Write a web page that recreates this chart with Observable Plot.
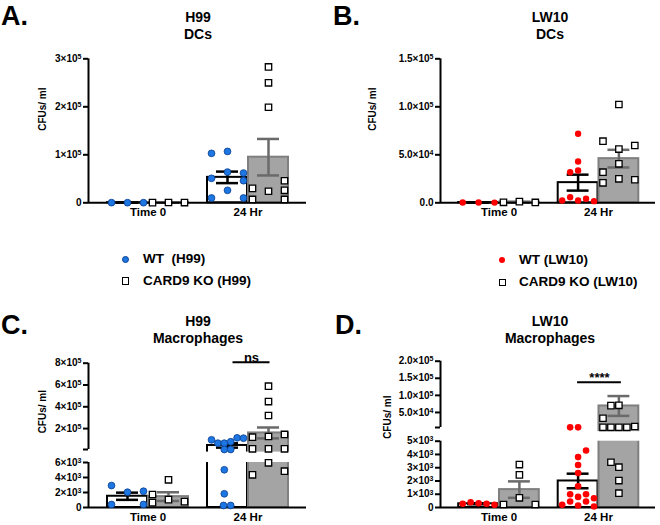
<!DOCTYPE html>
<html><head><meta charset="utf-8">
<script src="https://cdn.jsdelivr.net/npm/d3@7"></script>
<script src="https://cdn.jsdelivr.net/npm/@observablehq/plot@0.6"></script>
<style>
body{margin:0;background:#fff;}
#fig{position:relative;width:660px;height:525px;font-family:"Liberation Sans",Arial,Helvetica,sans-serif;font-weight:bold;color:#000;overflow:hidden;background:#fff;}
.abs{position:absolute;white-space:pre;}
.letter{font-size:27px;line-height:30px;}
.title{font-size:14px;line-height:17px;text-align:center;width:200px;}
.leg{font-size:13.5px;line-height:16px;}
.sym{position:absolute;box-sizing:border-box;}
</style></head>
<body><div id="fig"></div>
<script>
// ---------- shared labels ----------
const timeLabels = ["Time 0", "24 Hr"];
const yTitle = "CFUs/ ml";
const panelLetters = ["A.", "B.", "C.", "D."];

// ---------- Panel A : H99, DCs ----------
const A_title = ["H99", "DCs"];
const A_legend = ["WT  (H99)", "CARD9 KO (H99)"];
const A_wt0 = [300, 200, 250];            const A_wt0Lane = [-2, 0, 2];
const A_ko0 = [400, 600, 500];            const A_ko0Lane = [-2, 0, 2];
const A_wt24 = [103000, 107000, 64000, 51000, 62000, 46000, 26000, 10000, 10000];
const A_wt24Lane = [-2, 0, 0, -2, 2, 2, 0, -2, 2];
const A_ko24 = [283000, 250000, 199000, 30000, 24000, 46000, 26000, 7000, 7000];
const A_ko24Lane = [0, 0, 0, -2, 0, 2, 2, -2, 2];
const A_wtMean = [250, 53000];   const A_wtSem = [40, 12000];
const A_koMean = [500, 95000];   const A_koSem = [80, 38000];
const A_ticks = [0, 100000, 200000, 300000];
const A_tickLabels = ["0", "1×10⁵", "2×10⁵", "3×10⁵"];

// ---------- Panel B : LW10, DCs ----------
const B_title = ["LW10", "DCs"];
const B_legend = ["WT (LW10)", "CARD9 KO (LW10)"];
const B_wt0 = [300, 300, 200];            const B_wt0Lane = [-2, 0, 2];
const B_ko0 = [500, 1200, 400];           const B_ko0Lane = [-2, 0, 2];
const B_wt24 = [71900, 43000, 31900, 33600, 2400, 5800, 2400, 4200, 1700];
const B_wt24Lane = [0, 0, -1, 0, -2, -1, 0, 1, 2];
const B_ko24 = [102400, 64200, 56000, 59700, 40600, 31900, 20800, 25000, 24000];
const B_ko24Lane = [0, -2, 0, 2, 0, -2, -2, 0, 2];
const B_wtMean = [270, 21000];   const B_wtSem = [30, 8300];
const B_koMean = [700, 46000];   const B_koSem = [250, 9200];
const B_ticks = [0, 50000, 100000, 150000];
const B_tickLabels = ["0.0", "5.0×10⁴", "1.0×10⁵", "1.5×10⁵"];

// ---------- Panel C : H99, Macrophages (broken axis) ----------
const C_title = ["H99", "Macrophages"];
const C_wt0 = [2930, 2040, 2170, 400, 400];       const C_wt0Lane = [-2, 0, 2, -2, 2];
const C_ko0 = [1730, 650, 3690, 1050, 780];       const C_ko0Lane = [-2, -2, 0, 0, 2];
const C_wt24 = [97000, 66000, 66000, 79000, 115000, 112000, 8000, 8200, 5030, 1830, 270, 270];
const C_wt24Lane = [-2, -1.2, -0.4, 0.4, 1.2, 2, -0.4, 0.4, -0.4, -0.4, -0.5, 0.4];
const C_ko24 = [589000, 448000, 320000, 121000, 127000, 146000, 14400, 14400, 14400, 5960, 4360, 4840];
const C_ko24Lane = [0, 0, 0, -2, 0, 2, -2, 0, 2, 0, -2, 2];
const C_wtMean = [1500, 45000];  const C_wtSem = [480, 20000];
const C_koMean = [1450, 160000]; const C_koSem = [580, 50000];
const C_ticks = [0, 2000, 4000, 6000, 8000, 200000, 400000, 600000, 800000];
const C_tickLabels = ["0", "2×10³", "4×10³", "6×10³", "", "2×10⁵", "4×10⁵", "6×10⁵", "8×10⁵"];
const C_segLow = [0, 6000];  const C_segHigh = [8000, 800000];
const C_sigLabel = ["ns"];   const C_sigSpan = [0.85, 1.22];  const C_sigValue = [809000];

// ---------- Panel D : LW10, Macrophages (broken axis) ----------
const D_title = ["LW10", "Macrophages"];
const D_wt0 = [280, 400, 320, 280, 200];          const D_wt0Lane = [-2, -1, 0, 1, 2];
const D_ko0 = [3240, 2460, 730, 226, 226];        const D_ko0Lane = [0, 0, 0, -2, 2];
const D_wt24 = [6500, 6500, 4300, 3800, 3200, 2600, 1600, 1000, 1000, 800, 450, 450, 700, 200, 150, 80];
const D_wt24Lane = [-1, 0, 1, 0, 0, 0, 0, -1, 1, 0, -1, 1, 2, -2, 0, 2];
const D_ko24 = [70000, 71000, 33000, 6500, 6500, 6500, 6500, 8900, 3410, 3040, 2030, 1080];
const D_ko24Lane = [-1, 0, -2, -2, -1, 0, 1, 2, -1, 0, 0, 0];
const D_wtMean = [280, 2000];    const D_wtSem = [35, 550];
const D_koMean = [1350, 69000];  const D_koSem = [620, 29000];
const D_ticks = [0, 1000, 2000, 3000, 4000, 5000, 6000, 50000, 100000, 150000, 200000];
const D_tickLabels = ["0", "1×10³", "2×10³", "3×10³", "4×10³", "5×10³", "", "5.0×10⁴", "1.0×10⁵", "1.5×10⁵", "2.0×10⁵"];
const D_segLow = [0, 5000];  const D_segHigh = [6000, 200000];
const D_sigLabel = ["****"]; const D_sigSpan = [0.79, 1.23]; const D_sigValue = [138500];

// ---------- builder ----------
const fig = document.getElementById("fig");
const FONT = "'Liberation Sans', Arial, Helvetica, sans-serif";
const SUP = "⁰¹²³⁴⁵⁶⁷⁸⁹";
const NS = "http://www.w3.org/2000/svg";

// render "3×10⁵" as base text + raised smaller exponent (still real text)
function raiseExponents(svg) {
  svg.querySelectorAll("text").forEach(t => {
    const s = t.textContent;
    const m = s.match(/^(.*×10)([⁰¹²³⁴⁵⁶⁷⁸⁹]+)$/);
    if (!m) return;
    const exp = [...m[2]].map(ch => SUP.indexOf(ch)).join("");
    t.textContent = "";
    const a = document.createElementNS(NS, "tspan"); a.textContent = m[1];
    const b = document.createElementNS(NS, "tspan"); b.textContent = exp;
    b.setAttribute("dy", "-0.42em"); b.setAttribute("font-size", "7px");
    t.appendChild(a); t.appendChild(b);
  });
}

function buildPanel(c) {
  const off = [-0.205, 0.205];
  const [xmin, xmax] = c.xDomain;
  const groups = [[0, 0, c.wt0, c.wt0Lane], [0, 1, c.ko0, c.ko0Lane], [1, 0, c.wt24, c.wt24Lane], [1, 1, c.ko24, c.ko24Lane]];
  const pts = [[], []];
  for (const [t, g, vals, lanes] of groups) vals.forEach((v, i) => pts[g].push({x: t + off[g] + lanes[i] * 0.08, y: v}));
  const bars = [[], []];
  for (const t of [0, 1]) {
    bars[0].push({c: t + off[0], m: c.wtMean[t], s: c.wtSem[t]});
    bars[1].push({c: t + off[1], m: c.koMean[t], s: c.koSem[t]});
  }
  const barFill = ["white", "#a4a4a4"], barStroke = ["black", "#7f7f7f"], errColor = ["black", "#6a6a6a"];
  const labelMap = new Map(c.ticks.map((t, i) => [t, c.tickLabels[i]]));
  const marks = [];
  for (const g of [0, 1])
    marks.push(Plot.rect(bars[g], {x1: d => d.c - 0.2, x2: d => d.c + 0.2, y1: 0, y2: "m", fill: barFill[g], stroke: barStroke[g], strokeWidth: 2}));
  for (const g of [0, 1]) {
    const s = {stroke: errColor[g], strokeWidth: 2.5};
    marks.push(Plot.ruleX(bars[g], {x: "c", y1: d => d.m - d.s, y2: d => d.m + d.s, ...s}));
    marks.push(Plot.ruleY(bars[g], {y: d => d.m + d.s, x1: d => d.c - 0.11, x2: d => d.c + 0.11, ...s}));
    marks.push(Plot.ruleY(bars[g], {y: d => d.m - d.s, x1: d => d.c - 0.11, x2: d => d.c + 0.11, ...s}));
  }
  if (c.band) marks.push(Plot.rect([c.band], {x1: xmin + 0.01, x2: xmax, y1: d => d[0], y2: d => d[1], fill: "white"}));
  marks.push(Plot.ruleX(c.segments, {x: xmin, y1: d => d[0], y2: d => d[1], stroke: "black", strokeWidth: 2}));
  marks.push(Plot.axisY(c.ticks, {anchor: "left", tickFormat: d => labelMap.get(d), tickSize: 5, tickPadding: 2, strokeWidth: 2, fontSize: 10, fontWeight: "bold", label: null}));
  marks.push(Plot.ruleY([0], {stroke: "black", strokeWidth: 2}));
  marks.push(Plot.axisX([0, 1], {tickFormat: d => timeLabels[d], tickSize: 0, tickPadding: 5, fontSize: 11.5, fontWeight: "bold", label: null}));
  marks.push(Plot.dot(pts[0], {x: "x", y: "y", r: c.dotR, fill: c.dotFill, stroke: c.dotStroke, strokeWidth: c.dotStrokeWidth}));
  marks.push(Plot.dot(pts[1], {x: "x", y: "y", symbol: "square", r: 3.6, fill: "white", stroke: "black", strokeWidth: 1.3}));
  marks.push(Plot.text([yTitle], {frameAnchor: "left", rotate: -90, dx: c.labelDx, dy: c.labelDy, text: d => d, fontSize: 10, fontWeight: "bold"}));
  if (c.sig) {
    const sd = [{label: c.sig[0][0], x1: c.sig[1][0], x2: c.sig[1][1], y: c.sig[2][0]}];
    marks.push(Plot.ruleY(sd, {y: "y", x1: "x1", x2: "x2", stroke: "black", strokeWidth: 2}));
    marks.push(Plot.text(sd, {x: d => (d.x1 + d.x2) / 2, y: "y", text: "label", lineAnchor: "bottom", fontSize: 13, fontWeight: "bold"}));
  }
  const svg = Plot.plot({
    width: c.width, height: c.height,
    marginLeft: c.xRange[0], marginRight: c.width - c.xRange[1],
    marginTop: c.yRange[c.yRange.length - 1], marginBottom: c.height - c.yRange[0],
    x: {type: "linear", domain: c.xDomain, range: c.xRange},
    y: {type: "linear", domain: c.yDomain, range: c.yRange},
    style: {fontFamily: FONT, fontSize: "10px", fontWeight: "bold", color: "black", background: "transparent", overflow: "visible"},
    marks
  });
  raiseExponents(svg);
  svg.style.position = "absolute";
  svg.style.left = c.left + "px";
  svg.style.top = c.top + "px";
  fig.appendChild(svg);
}

const leftX = {xDomain: [-0.595, 1.585], xRange: [88, 306], width: 330};
const rightX = {xDomain: [-0.588, 1.573], xRange: [110, 325], width: 330};
const blue = {dotR: 3.4, dotFill: "#1d76e2", dotStroke: "#0a3f8f", dotStrokeWidth: 0.8};
const red = {dotR: 3.2, dotFill: "#ff0000", dotStroke: "none", dotStrokeWidth: 0};

buildPanel({...leftX, ...blue, left: 0, top: 0, height: 230,
  yDomain: [0, 300000], yRange: [202.3, 58.3], segments: [[0, 300000]],
  ticks: A_ticks, tickLabels: A_tickLabels, labelDx: -46, labelDy: 0,
  wt0: A_wt0, wt0Lane: A_wt0Lane, ko0: A_ko0, ko0Lane: A_ko0Lane, wt24: A_wt24, wt24Lane: A_wt24Lane, ko24: A_ko24, ko24Lane: A_ko24Lane,
  wtMean: A_wtMean, wtSem: A_wtSem, koMean: A_koMean, koSem: A_koSem});

buildPanel({...rightX, ...red, left: 330, top: 0, height: 230,
  yDomain: [0, 150000], yRange: [202.3, 58.3], segments: [[0, 150000]],
  ticks: B_ticks, tickLabels: B_tickLabels, labelDx: -68, labelDy: 0,
  wt0: B_wt0, wt0Lane: B_wt0Lane, ko0: B_ko0, ko0Lane: B_ko0Lane, wt24: B_wt24, wt24Lane: B_wt24Lane, ko24: B_ko24, ko24Lane: B_ko24Lane,
  wtMean: B_wtMean, wtSem: B_wtSem, koMean: B_koMean, koSem: B_koSem});

buildPanel({...leftX, ...blue, left: 0, top: 290, height: 235,
  yDomain: [0, C_segLow[1], C_segHigh[0], C_segHigh[1]], yRange: [217, 172, 159, 72.7],
  segments: [C_segLow, C_segHigh], band: [6000, 7600],
  ticks: C_ticks, tickLabels: C_tickLabels, labelDx: -46, labelDy: -2,
  wt0: C_wt0, wt0Lane: C_wt0Lane, ko0: C_ko0, ko0Lane: C_ko0Lane, wt24: C_wt24, wt24Lane: C_wt24Lane, ko24: C_ko24, ko24Lane: C_ko24Lane,
  wtMean: C_wtMean, wtSem: C_wtSem, koMean: C_koMean, koSem: C_koSem,
  sig: [C_sigLabel, C_sigSpan, C_sigValue]});

buildPanel({...rightX, ...red, dotR: 3.3, left: 330, top: 290, height: 235,
  yDomain: [0, D_segLow[1], D_segHigh[0], D_segHigh[1]], yRange: [217, 150.7, 137, 70.7],
  segments: [D_segLow, D_segHigh], band: [5000, 5700],
  ticks: D_ticks, tickLabels: D_tickLabels, labelDx: -53, labelDy: 4.5,
  wt0: D_wt0, wt0Lane: D_wt0Lane, ko0: D_ko0, ko0Lane: D_ko0Lane, wt24: D_wt24, wt24Lane: D_wt24Lane, ko24: D_ko24, ko24Lane: D_ko24Lane,
  wtMean: D_wtMean, wtSem: D_wtSem, koMean: D_koMean, koSem: D_koSem,
  sig: [D_sigLabel, D_sigSpan, D_sigValue]});

// ---------- HTML text: letters, titles, legends ----------
function addDiv(cls, text, left, top, extra) {
  const d = document.createElement("div");
  d.className = "abs " + cls;
  d.textContent = text;
  d.style.left = left + "px";
  d.style.top = top + "px";
  if (extra) Object.assign(d.style, extra);
  fig.appendChild(d);
  return d;
}
addDiv("letter", panelLetters[0], 1, 1);
addDiv("letter", panelLetters[1], 333, 1);
addDiv("letter", panelLetters[2], 1, 310);
addDiv("letter", panelLetters[3], 335, 310);

addDiv("title", A_title.join("\n"), 98, 8.5);
addDiv("title", B_title.join("\n"), 450, 8.5);
addDiv("title", C_title.join("\n"), 98, 313);
addDiv("title", D_title.join("\n"), 450, 313);

function addSym(kind, cx, cy, color) {
  const d = document.createElement("div");
  d.className = "sym";
  if (kind === "circle") {
    const s = color === "#ff0000" ? 6.4 : 7.2;
    Object.assign(d.style, {left: (cx - s / 2) + "px", top: (cy - s / 2) + "px", width: s + "px", height: s + "px", borderRadius: "50%", background: color, border: color === "#ff0000" ? "none" : "0.8px solid #0a3f8f"});
  } else {
    Object.assign(d.style, {left: (cx - 3.6) + "px", top: (cy - 3.6) + "px", width: "7.2px", height: "7.2px", background: "white", border: "1.3px solid black"});
  }
  fig.appendChild(d);
}
addSym("circle", 125.7, 259.3, "#1d76e2");
addSym("square", 125.7, 281);
addDiv("leg", A_legend[0], 143, 251.3);
addDiv("leg", A_legend[1], 143, 273);
addSym("circle", 502.3, 260, "#ff0000");
addSym("square", 502.3, 282.3);
addDiv("leg", B_legend[0], 519, 252);
addDiv("leg", B_legend[1], 519, 274.3);
</script></body></html>
